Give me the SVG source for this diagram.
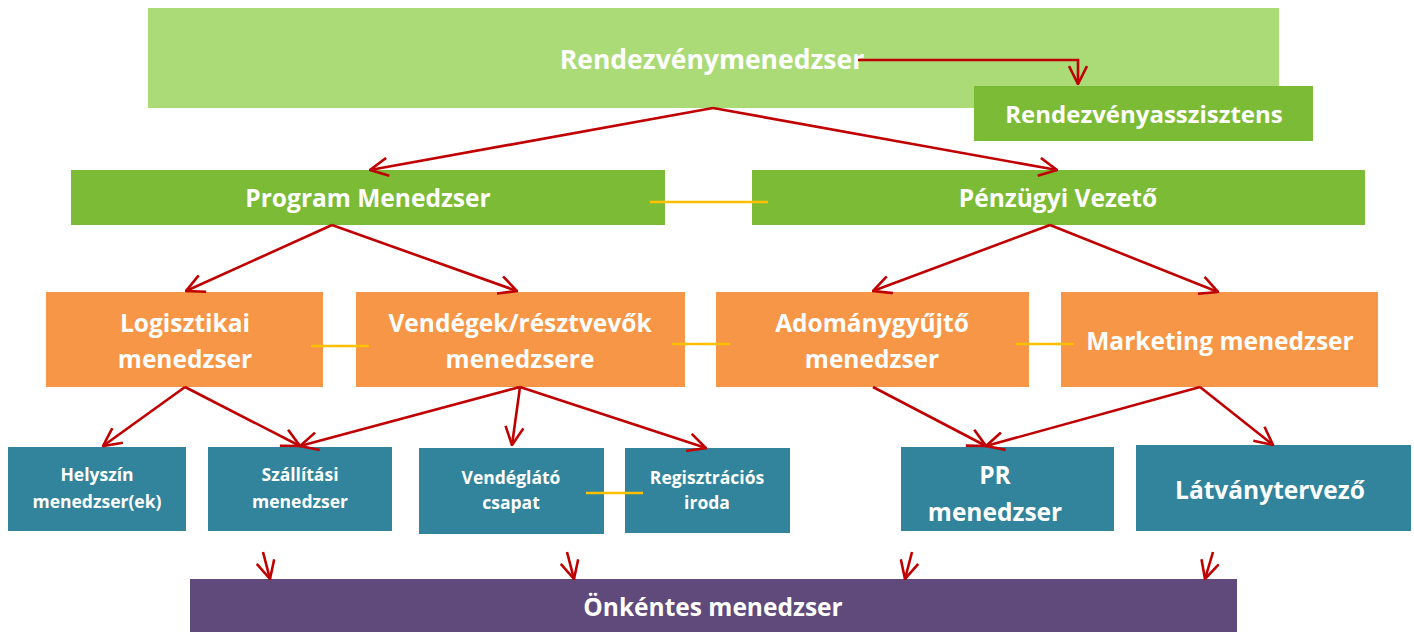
<svg xmlns="http://www.w3.org/2000/svg" width="1414" height="632" viewBox="0 0 1414 632">
<defs>
<marker id="ah" viewBox="0 0 20 20" refX="19" refY="10" markerWidth="20" markerHeight="20" markerUnits="userSpaceOnUse" orient="auto">
<path d="M1,1 L19,10 L1,19" fill="none" stroke="#C00000" stroke-width="2.6"/>
</marker>
<style>
.t{font-family:"Open Sans","Liberation Sans",sans-serif;font-weight:bold;fill:#fff;text-anchor:middle}
.L{font-size:24.5px}
.S{font-size:17.5px}
.c{fill:none;stroke:#C00000;stroke-width:2.6;marker-end:url(#ah)}
.y{stroke:#FFC000;stroke-width:2.5}
</style>
</defs>
<rect width="1414" height="632" fill="#fff"/>
<g id="n-rm"><rect x="148" y="8" width="1131" height="100" fill="#ABDB77"/><text class="t" x="712" y="68.5" style="font-size:26.5px">Rendezvénymenedzser</text></g>
<g id="n-ra"><rect x="974" y="86" width="339" height="55" fill="#7CBB35"/><text class="t" x="1144" y="122.5" style="font-size:24px">Rendezvényasszisztens</text></g>
<g id="n-pm"><rect x="71" y="170" width="594" height="55" fill="#7CBB35"/><text class="t L" x="368" y="207">Program Menedzser</text></g>
<g id="n-pv"><rect x="752" y="170" width="613" height="55" fill="#7CBB35"/><text class="t L" x="1058" y="207">Pénzügyi Vezető</text></g>
<g id="n-lm"><rect x="46" y="292" width="277" height="95" fill="#F79646"/><text class="t L" x="185" y="332">Logisztikai</text><text class="t L" x="185" y="368">menedzser</text></g>
<g id="n-vm"><rect x="356" y="292" width="329" height="95" fill="#F79646"/><text class="t L" x="520" y="332">Vendégek/résztvevők</text><text class="t L" x="520" y="368">menedzsere</text></g>
<g id="n-am"><rect x="716" y="292" width="313" height="95" fill="#F79646"/><text class="t L" x="872" y="332">Adománygyűjtő</text><text class="t L" x="872" y="368">menedzser</text></g>
<g id="n-mm"><rect x="1061" y="292" width="317" height="95" fill="#F79646"/><text class="t L" x="1220" y="350">Marketing menedzser</text></g>
<g id="n-hm"><rect x="8" y="447" width="178" height="84" fill="#31849B"/><text class="t S" x="97" y="481">Helyszín</text><text class="t S" x="97" y="508">menedzser(ek)</text></g>
<g id="n-sm"><rect x="208" y="447" width="184" height="84" fill="#31849B"/><text class="t S" x="300" y="481">Szállítási</text><text class="t S" x="300" y="508">menedzser</text></g>
<g id="n-vc"><rect x="419" y="448" width="185" height="86" fill="#31849B"/><text class="t S" x="511" y="484">Vendéglátó</text><text class="t S" x="511" y="509">csapat</text></g>
<g id="n-ri"><rect x="625" y="448" width="165" height="85" fill="#31849B"/><text class="t S" x="707" y="484">Regisztrációs</text><text class="t S" x="707" y="509">iroda</text></g>
<g id="n-pr"><rect x="901" y="447" width="213" height="84" fill="#31849B"/><text class="t L" x="995" y="484">PR</text><text class="t L" x="995" y="521">menedzser</text></g>
<g id="n-lt"><rect x="1136" y="445" width="275" height="86" fill="#31849B"/><text class="t L" x="1270" y="499">Látványtervező</text></g>
<g id="n-om"><rect x="190" y="579" width="1047" height="53" fill="#604A7B"/><text class="t L" x="713" y="616">Önkéntes menedzser</text></g>
<g id="connectors">
<path class="c" d="M858,60 H1078 V84"/>
<path class="c" d="M713,108 L370,170"/>
<path class="c" d="M713,108 L1057,170"/>
<path class="c" d="M332,225 L186,291"/>
<path class="c" d="M332,225 L517,291"/>
<path class="c" d="M1050,225 L873,291"/>
<path class="c" d="M1050,225 L1218,292"/>
<path class="c" d="M185,387 L103,446"/>
<path class="c" d="M185,387 L300,446"/>
<path class="c" d="M520,387 L300,446"/>
<path class="c" d="M520,387 L512,445"/>
<path class="c" d="M520,387 L706,448"/>
<path class="c" d="M873,387 L986,446"/>
<path class="c" d="M1200,387 L986,446"/>
<path class="c" d="M1200,387 L1273,445"/>
<path class="c" d="M263,552 L270,579"/>
<path class="c" d="M567,552 L574,579"/>
<path class="c" d="M912,552 L905,579"/>
<path class="c" d="M1213,552 L1205,579"/>
<line class="y" x1="650" y1="202" x2="768" y2="202"/>
<line class="y" x1="311" y1="346" x2="369" y2="346"/>
<line class="y" x1="672" y1="344" x2="730" y2="344"/>
<line class="y" x1="1016" y1="344" x2="1074" y2="344"/>
<line class="y" x1="586" y1="493" x2="643" y2="493"/>
</g>
</svg>
